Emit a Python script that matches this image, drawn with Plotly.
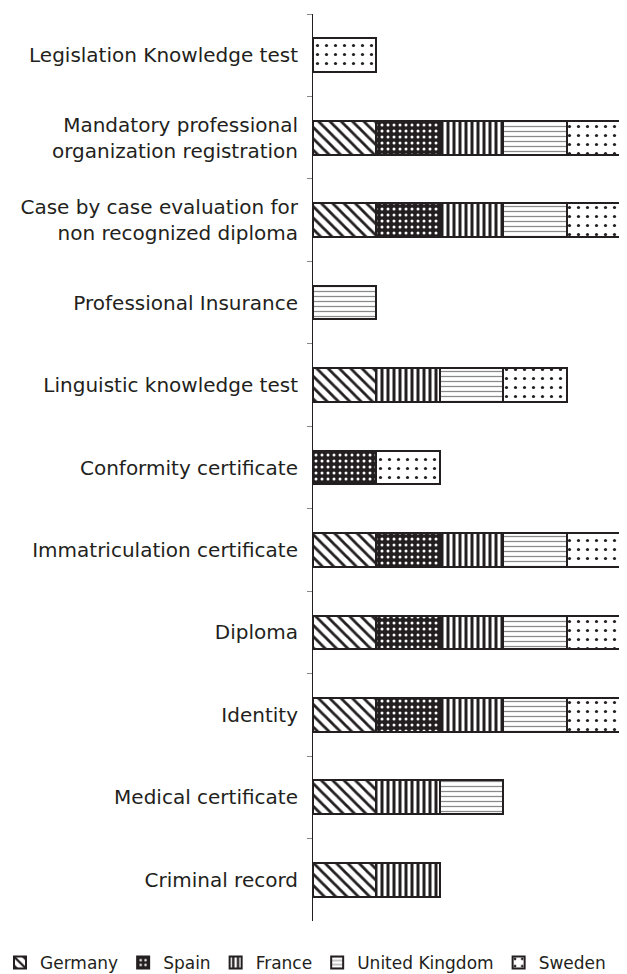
import plotly.graph_objects as go

categories = [
    "Legislation Knowledge test",
    "Mandatory professional<br>organization registration",
    "Case by case evaluation for<br>non recognized diploma",
    "Professional Insurance",
    "Linguistic knowledge test",
    "Conformity certificate",
    "Immatriculation certificate",
    "Diploma",
    "Identity",
    "Medical certificate",
    "Criminal record",
]

germany = [0, 1, 1, 0, 1, 0, 1, 1, 1, 1, 1]
spain   = [0, 1, 1, 0, 0, 1, 1, 1, 1, 0, 0]
france  = [0, 1, 1, 0, 1, 0, 1, 1, 1, 1, 1]
uk      = [0, 1, 1, 1, 1, 0, 1, 1, 1, 1, 0]
sweden  = [1, 1, 1, 0, 1, 1, 1, 1, 1, 0, 0]

INK = "#231f20"
series = [
    ("Germany", germany, dict(shape="\\", fgcolor=INK, bgcolor="white", size=8, solidity=0.35)),
    ("Spain", spain, dict(shape=".", fgcolor="white", bgcolor=INK, size=6, solidity=0.2)),
    ("France", france, dict(shape="|", fgcolor=INK, bgcolor="white", size=6, solidity=0.5)),
    ("United Kingdom", uk, dict(shape="-", fgcolor="#8a8a8a", bgcolor="white", size=5, solidity=0.25)),
    ("Sweden", sweden, dict(shape=".", fgcolor=INK, bgcolor="white", size=9, solidity=0.1)),
]

fig = go.Figure()
for name, vals, pat in series:
    pat = dict(pat, fgopacity=1)
    fig.add_trace(go.Bar(
        y=categories,
        x=[v if v else None for v in vals],
        name=name,
        orientation="h",
        width=0.41,
        marker=dict(color="white", pattern=pat, line=dict(color=INK, width=2)),
    ))

# page body has an 8px margin; figure fills the remaining visible area
W, H = 619, 966
l, t, b = 305, 6, 53
plot_w = W - l
plot_h = H - t - b
fig.update_layout(
    width=W, height=H,
    barmode="stack",
    margin=dict(l=l, r=0, t=t, b=b, autoexpand=False),
    paper_bgcolor="white", plot_bgcolor="white",
    font=dict(family="DejaVu Sans", size=20, color=INK),
    showlegend=True,
    legend=dict(orientation="h", x=(-8 - l) / plot_w, xanchor="left", y=-24 / plot_h, yanchor="top",
                traceorder="normal", font=dict(size=17), itemwidth=30,
                tracegroupgap=0, itemclick=False),
    xaxis=dict(range=[0, plot_w / 63.4], visible=False, fixedrange=True),
    yaxis=dict(type="category", autorange="reversed", showline=True, linecolor=INK,
               linewidth=1, ticks="outside", tickson="boundaries", ticklen=5,
               tickcolor="#888888", showgrid=False, zeroline=False, ticklabelstandoff=10),
)
fig.write_html("out.html")
